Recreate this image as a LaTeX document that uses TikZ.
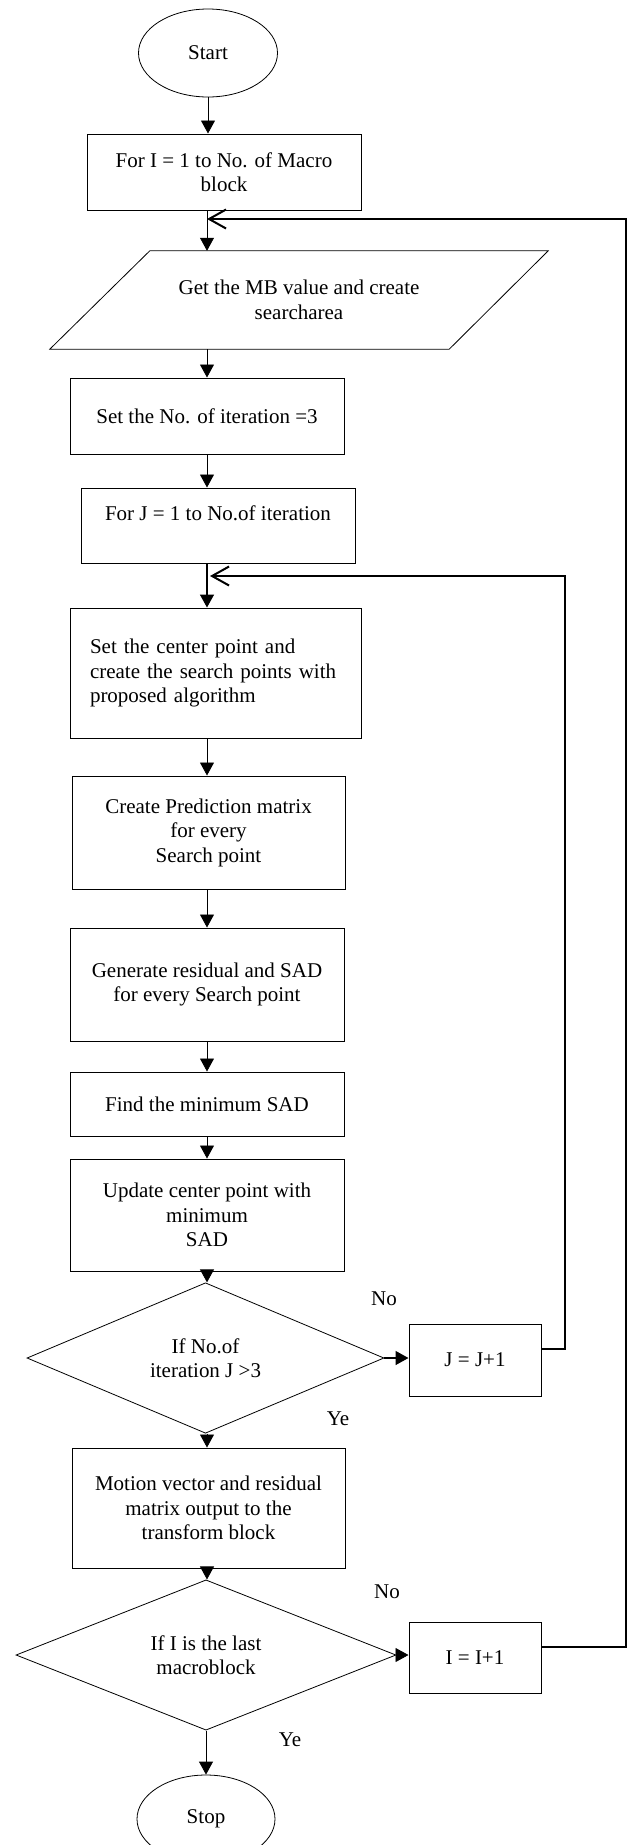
\documentclass[tikz,border=0pt]{standalone}
\usepackage{fontspec}
\setmainfont{Liberation Serif}
\usetikzlibrary{shapes.geometric,arrows.meta,calc}
\begin{document}
\begin{tikzpicture}[x=1pt,y=-1pt,
  every node/.style={font=\fontsize{21}{24.5}\selectfont},
  box/.style={draw,line width=1pt,rectangle,inner sep=0pt,align=center},
  term/.style={draw,line width=0.8pt,ellipse,minimum width=139pt,minimum height=88pt,inner sep=0pt},
  dec/.style={draw,line width=0.8pt,diamond,inner sep=0pt,align=center},
  arr/.style={line width=0.8pt,-{Triangle[length=13pt,width=14pt]}},
  loopline/.style={line width=2pt,-{Straight Barb[length=17pt,width=19pt]}},
  lbl/.style={inner sep=0pt}
]
\useasboundingbox (0,0) rectangle (628,1845);

\coordinate (ax) at (207,0);

\node[term] (start) at (208,53) {Start};
\node[box,minimum width=274pt,minimum height=76pt] (b1) at (224,172) {For I = 1 to No. of Macro\\block};
\node[inner sep=0pt,minimum width=498pt,minimum height=98pt,align=center] (para) at (299,300) {Get the MB value and create\\searcharea};
\draw[line width=0.8pt] ($(para.north west)+(100,0)$) -- (para.north east) -- ($(para.south east)+(-99,0)$) -- (para.south west) -- cycle;
\node[box,minimum width=274pt,minimum height=76pt] (b3) at (207,416) {Set the No. of iteration =3};
\node[box,minimum width=274pt,minimum height=75pt] (b4) at (218,525.5) {For J = 1 to No.of iteration\\\mbox{}};
\node[box,minimum width=291pt,minimum height=130pt,align=left,text width=251pt,inner xsep=20pt] (b5) at (215.5,673) {Set the center point and\\create the search points with\\proposed algorithm};
\node[box,minimum width=273pt,minimum height=113pt] (b6) at (208.5,832.5) {Create Prediction matrix\\for every\\Search point};
\node[box,minimum width=274pt,minimum height=113pt] (b7) at (207,984.5) {Generate residual and SAD\\for every Search point};
\node[box,minimum width=274pt,minimum height=64pt] (b8) at (207,1104) {Find the minimum SAD};
\node[box,minimum width=274pt,minimum height=112pt] (b9) at (207,1215) {Update center point with\\minimum\\SAD};
\node[dec,minimum width=357pt,minimum height=124pt] (d1) at (205.5,1358) {If No.of\\iteration J >3};
\node[box,minimum width=132pt,minimum height=72pt] (bJ) at (475,1360) {J = J+1};
\node[box,minimum width=273pt,minimum height=120pt] (b10) at (208.5,1508) {Motion vector and residual\\matrix output to the\\transform block};
\node[dec,minimum width=380pt,minimum height=124pt] (d2) at (206,1655) {If I is the last\\macroblock};
\node[box,minimum width=132pt,minimum height=71pt] (bI) at (475,1657.5) {I = I+1};
\node[term,minimum width=138pt] (stop) at (206,1819) {Stop};

\node[lbl] (no1) at (384,1299) {No};
\node[lbl] (ye1) at (338,1419) {Ye};
\node[lbl] (no2) at (387,1592) {No};
\node[lbl] (ye2) at (290,1740) {Ye};

\draw[arr] (start.south) -- (start.south |- b1.north);
\draw[arr] (b1.south -| ax) -- (ax |- para.north);
\draw[arr] (para.south -| ax) -- (ax |- b3.north);
\draw[arr] (b3.south -| ax) -- (ax |- b4.north);
\draw[arr,line width=1.5pt] (b4.south -| ax) -- (ax |- b5.north);
\draw[arr] (b5.south -| ax) -- (ax |- b6.north);
\draw[arr] (b6.south -| ax) -- (ax |- b7.north);
\draw[arr] (b7.south -| ax) -- (ax |- b8.north);
\draw[arr] (b8.south -| ax) -- (ax |- b9.north);
\draw[arr] (b9.south -| ax) -- (ax |- d1.north);
\draw[arr] (d1.south -| ax) -- (ax |- b10.north);
\draw[arr] (b10.south -| ax) -- (ax |- d2.north);
\draw[arr] (d2.south) -- (stop.north);
\draw[arr,line width=1.5pt] (d1.east) -- (d1.east -| bJ.west);
\draw[arr] (d2.east) -- (d2.east -| bI.west);

\coordinate (jJ) at (210,576);
\coordinate (rJ) at (565,0);
\coordinate (jI) at (207,219);
\coordinate (rI) at (626,0);
\draw[loopline] ($(bJ.east)+(0,-11)$) -| (rJ |- jJ) -- (jJ);
\draw[loopline] ($(bI.east)+(0,-11)$) -| (rI |- jI) -- (jI);
\end{tikzpicture}
\end{document}
